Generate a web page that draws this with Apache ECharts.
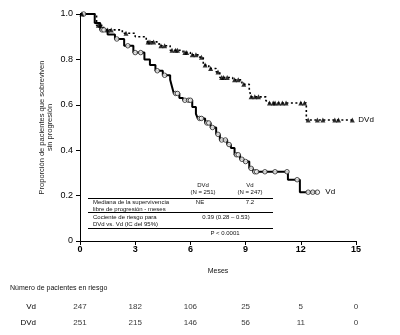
<!DOCTYPE html>
<html><head><meta charset="utf-8">
<script src="https://cdn.jsdelivr.net/npm/echarts@6/dist/echarts.min.js"></script>
<style>html,body{margin:0;padding:0;background:#fff}#c{width:400px;height:335px}</style>
</head><body><div id="c"></div>
<script>
// Kaplan-Meier step data [month, proportion]
const vdCurve = [[0,1.0],[0.8,0.96],[1.1,0.93],[1.5,0.91],[1.9,0.89],[2.4,0.86],[2.9,0.83],[3.5,0.80],[3.8,0.775],[4.1,0.75],[4.5,0.73],[4.9,0.71],[5.0,0.68],[5.1,0.65],[5.4,0.63],[5.6,0.62],[6.1,0.59],[6.3,0.56],[6.4,0.54],[6.8,0.52],[7.1,0.50],[7.4,0.47],[7.6,0.445],[8.0,0.425],[8.2,0.41],[8.4,0.38],[8.7,0.36],[8.9,0.35],[9.2,0.32],[9.4,0.305],[11.3,0.27],[11.95,0.215],[12.9,0.215]];
const dvdCurve = [[0,1.0],[0.9,0.95],[1.2,0.94],[1.4,0.93],[2.3,0.915],[3.0,0.90],[3.6,0.877],[4.3,0.86],[4.9,0.84],[5.6,0.83],[6.0,0.82],[6.5,0.81],[6.7,0.775],[7.0,0.76],[7.4,0.745],[7.6,0.72],[8.3,0.71],[8.8,0.69],[9.2,0.665],[9.3,0.635],[10.1,0.62],[10.2,0.608],[12.3,0.533],[14.8,0.533]];
// censored observations
const vdCensor = [[0.2,1.0],[1.2,0.93],[1.3,0.93],[2.0,0.89],[2.6,0.86],[3.0,0.83],[3.3,0.83],[4.2,0.75],[4.6,0.73],[5.2,0.65],[5.3,0.65],[5.7,0.62],[5.9,0.62],[6.0,0.62],[6.5,0.54],[6.6,0.54],[6.9,0.52],[7.0,0.52],[7.2,0.50],[7.5,0.47],[7.7,0.445],[7.9,0.445],[8.1,0.425],[8.5,0.38],[8.6,0.38],[8.8,0.36],[9.0,0.35],[9.3,0.32],[9.5,0.305],[9.6,0.305],[10.05,0.305],[10.6,0.305],[11.25,0.305],[11.8,0.27],[12.4,0.215],[12.65,0.215],[12.9,0.215]];
const dvdCensor = [[0.1,1.0],[1.0,0.95],[1.1,0.95],[1.5,0.93],[1.7,0.93],[2.5,0.915],[3.7,0.877],[3.8,0.877],[4.0,0.877],[4.4,0.86],[4.6,0.86],[5.0,0.84],[5.2,0.84],[5.3,0.84],[5.7,0.83],[5.8,0.83],[6.1,0.82],[6.3,0.82],[6.6,0.81],[6.8,0.775],[7.1,0.76],[7.5,0.745],[7.7,0.72],[7.8,0.72],[8.0,0.72],[8.4,0.71],[8.6,0.71],[8.9,0.69],[9.3,0.635],[9.5,0.635],[9.7,0.635],[10.3,0.608],[10.5,0.608],[10.6,0.608],[10.8,0.608],[11.0,0.608],[11.2,0.608],[12.0,0.608],[12.2,0.608],[12.4,0.533],[12.9,0.533],[13.2,0.533],[13.85,0.533],[14.05,0.533],[14.8,0.533]];
// risk table
const riskMonths = [0,3,6,9,12,15];
const riskVd = [247,182,106,25,5,0];
const riskDVd = [251,215,146,56,11,0];
const riskRows = ['DVd','Vd'];

const FF = '"Liberation Sans Narrow","Liberation Sans",Arial,sans-serif';
const chart = echarts.init(document.getElementById('c'), null, {renderer:'canvas'});

const riskData = [];
riskMonths.forEach((m,i)=>{ riskData.push([m,'Vd',riskVd[i]]); riskData.push([m,'DVd',riskDVd[i]]); });

const txt = (x,y,t,align) => ({type:'text', x:x, y:y, style:{text:t, font:'6px '+FF, fill:'#111', align:align||'left', verticalAlign:'middle'}});

chart.setOption({
  animation:false,
  grid:[{left:80, top:14, width:276, height:227},
        {left:80, top:299, width:276, height:32}],
  xAxis:[{type:'value', gridIndex:0, min:0, max:15, interval:3,
          axisLine:{lineStyle:{color:'#000',width:1}}, axisTick:{length:4,lineStyle:{color:'#000'}},
          axisLabel:{color:'#000', fontSize:9, fontFamily:FF, fontWeight:'bold', margin:4},
          splitLine:{show:false},
          name:'Meses', nameLocation:'middle', nameGap:27, nameTextStyle:{color:'#111', fontSize:7, fontFamily:FF}},
         {type:'value', gridIndex:1, min:0, max:15, show:false}],
  yAxis:[{type:'value', gridIndex:0, min:0, max:1, interval:0.2,
          axisLine:{show:true, lineStyle:{color:'#000',width:1}}, axisTick:{show:true,length:4,lineStyle:{color:'#000'}},
          axisLabel:{color:'#000', fontSize:9, fontFamily:FF, margin:7, formatter:v=> v===0?'0':v.toFixed(1)},
          splitLine:{show:false},
          name:'Proporción de pacientes que sobreviven\nsin progresión', nameLocation:'middle', nameGap:26,
          nameMoveOverlap:false,
          nameTextStyle:{color:'#222', fontSize:7.5, fontFamily:FF, lineHeight:8}},
         {type:'category', gridIndex:1, data:riskRows,
          axisLine:{show:false}, axisTick:{show:false},
          axisLabel:{color:'#000', fontSize:8, fontFamily:FF, margin:44, align:'right'}}],
  series:[
    {name:'Vd', type:'line', xAxisIndex:0, yAxisIndex:0, step:'end', data:vdCurve, showSymbol:false,
     lineStyle:{color:'#000', width:2}, z:3,
     endLabel:{show:true, formatter:'Vd', color:'#000', fontSize:8, fontFamily:FF, distance:8}},
    {name:'DVd', type:'line', xAxisIndex:0, yAxisIndex:0, step:'end', data:dvdCurve, showSymbol:false,
     lineStyle:{color:'#000', width:1.6, type:[2,2.5]}, z:3,
     endLabel:{show:true, formatter:'DVd', color:'#000', fontSize:8, fontFamily:FF, distance:6}},
    {name:'Vd censor', type:'scatter', xAxisIndex:0, yAxisIndex:0, data:vdCensor, symbol:'circle', symbolSize:4.5,
     itemStyle:{color:'#fff', borderColor:'#222', borderWidth:1}, z:4},
    {name:'DVd censor', type:'scatter', xAxisIndex:0, yAxisIndex:0, data:dvdCensor, symbol:'triangle', symbolSize:5,
     itemStyle:{color:'#000'}, z:4},
    {name:'risk', type:'scatter', xAxisIndex:1, yAxisIndex:1, data:riskData, symbolSize:0,
     label:{show:true, position:'inside', formatter:p=>String(p.data[2]), color:'#000', fontSize:8, fontFamily:FF}}
  ],
  graphic:[
    {type:'line', shape:{x1:88,y1:198.5,x2:273,y2:198.5}, style:{stroke:'#000', lineWidth:1}},
    {type:'line', shape:{x1:88,y1:212.5,x2:273,y2:212.5}, style:{stroke:'#000', lineWidth:1}},
    {type:'line', shape:{x1:88,y1:228.5,x2:273,y2:228.5}, style:{stroke:'#000', lineWidth:1}},
    txt(203,185,'DVd','center'), txt(203,192,'(N = 251)','center'),
    txt(250,185,'Vd','center'), txt(250,192,'(N = 247)','center'),
    txt(93,202,'Mediana de la supervivencia'), txt(93,209,'libre de progresión - meses'),
    txt(200,202,'NE','center'), txt(250,202,'7.2','center'),
    txt(93,217,'Cociente de riesgo para'), txt(93,224,'DVd vs. Vd (IC del 95%)'),
    txt(226,217,'0.39 (0.28 – 0.53)','center'),
    txt(225,233,'P < 0.0001','center'),
    {type:'text', x:10, y:288, style:{text:'Número de pacientes en riesgo', font:'7px '+FF, fill:'#111', verticalAlign:'middle'}}
  ]
});
</script></body></html>
